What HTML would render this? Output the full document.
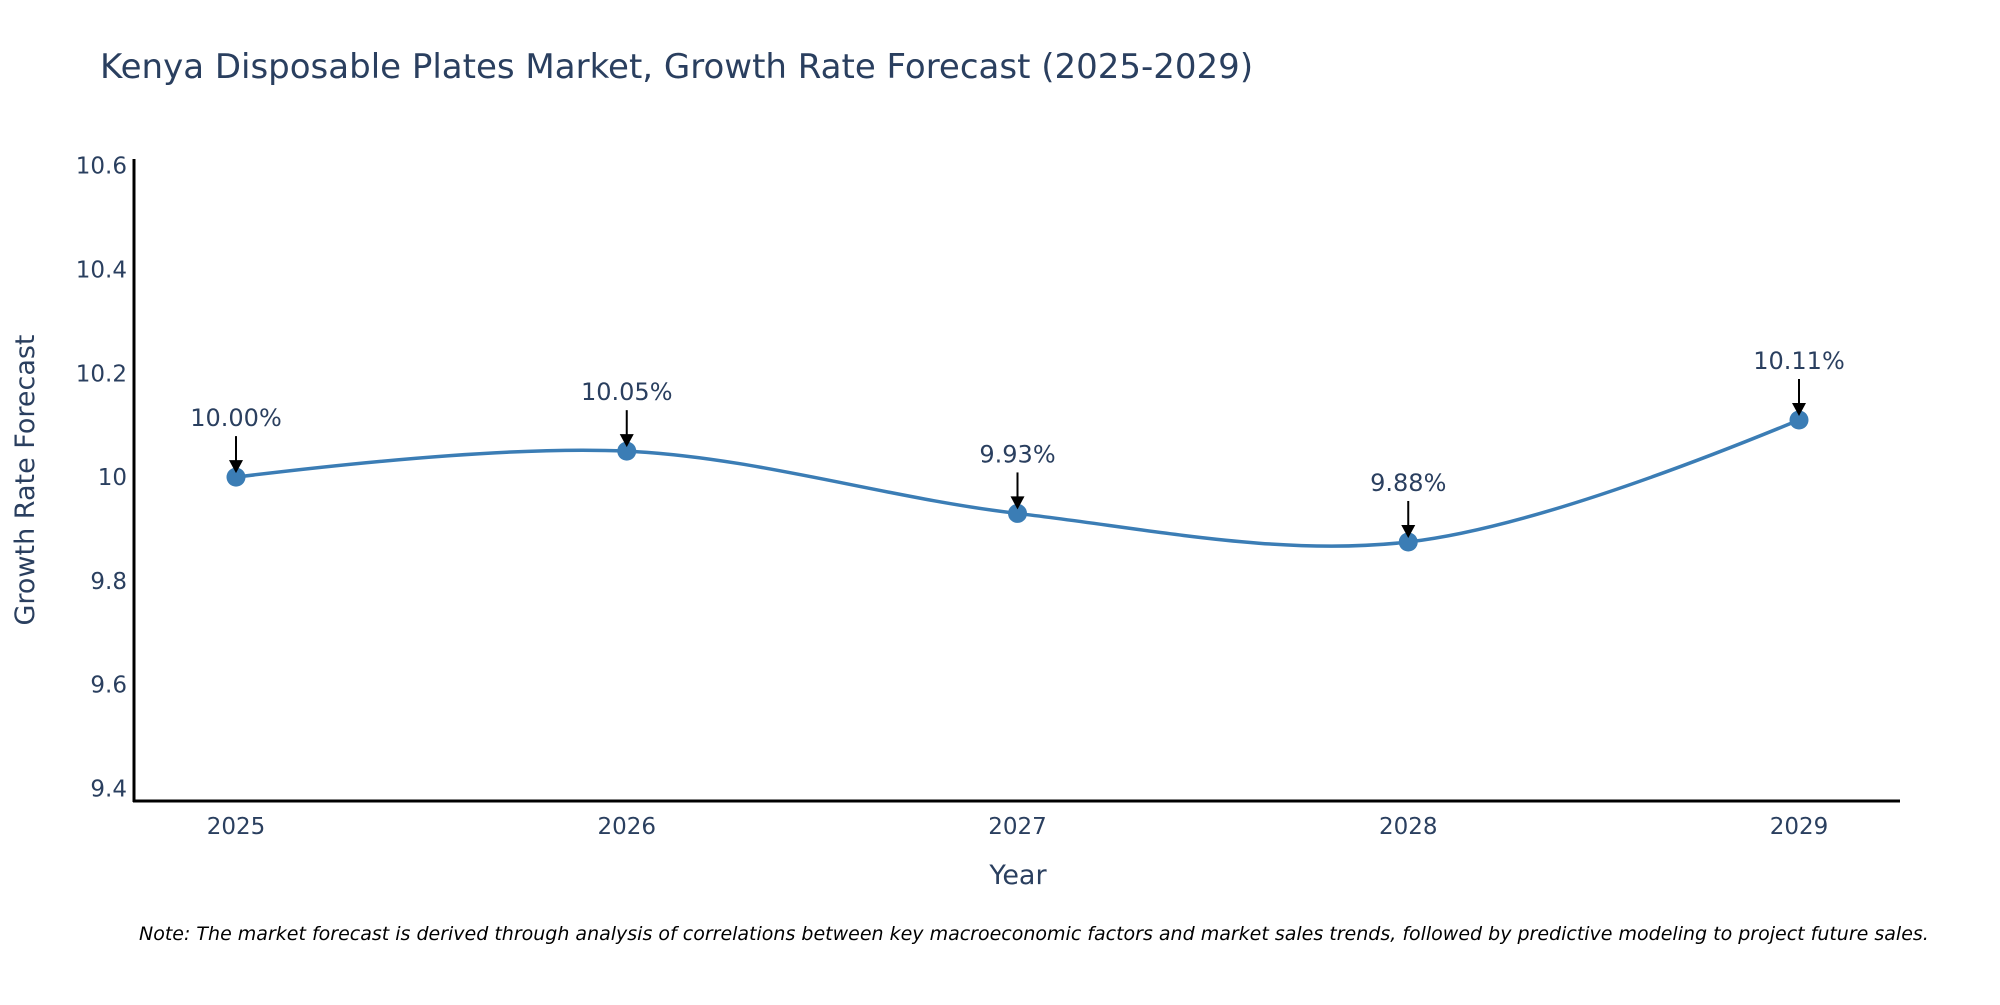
<!DOCTYPE html>
<html><head><meta charset="utf-8"><style>
body{margin:0;background:#fff;}
svg text{font-family:"DejaVu Sans","Liberation Sans",sans-serif;}
</style></head><body>
<svg id="chart" width="2000" height="1000" xmlns="http://www.w3.org/2000/svg">
<text x="100" y="78" font-size="34" fill="#2a3f5f">Kenya Disposable Plates Market, Growth Rate Forecast (2025-2029)</text>
<g id="yticks"></g>
<g id="xticks"></g>
<line x1="134" y1="159" x2="134" y2="802" stroke="#000" stroke-width="3"/>
<line x1="133" y1="801" x2="1900" y2="801" stroke="#000" stroke-width="3"/>
<text transform="translate(34,480) rotate(-90)" text-anchor="middle" font-size="27" fill="#2a3f5f">Growth Rate Forecast</text>
<text x="1018" y="884" text-anchor="middle" font-size="27" fill="#2a3f5f">Year</text>
<g id="series"></g>
<g id="annots"></g>
<text x="139" y="940" font-size="19" font-style="italic" fill="#000">Note: The market forecast is derived through analysis of correlations between key macroeconomic factors and market sales trends, followed by predictive modeling to project future sales.</text>
</svg>
<script>
const years = [2025, 2026, 2027, 2028, 2029];
const values = [10.00, 10.05, 9.93, 9.875, 10.11];
const valueLabels = ["10.00%", "10.05%", "9.93%", "9.88%", "10.11%"];
const yTicks = [9.4, 9.6, 9.8, 10, 10.2, 10.4, 10.6];
const yTickLabels = ["9.4", "9.6", "9.8", "10", "10.2", "10.4", "10.6"];

const NS = "http://www.w3.org/2000/svg";
const xMin = 2025, xMax = 2029, px0 = 236, px1 = 1799;
const yRef0 = 9.4, yRef1 = 10.6, py0 = 788.5, py1 = 165.7;
function xs(v){ return px0 + (v - xMin) / (xMax - xMin) * (px1 - px0); }
function ys(v){ return py0 + (v - yRef0) / (yRef1 - yRef0) * (py1 - py0); }
function mk(tag, attrs, parent){ const e = document.createElementNS(NS, tag); for (const k in attrs) e.setAttribute(k, attrs[k]); parent.appendChild(e); return e; }

const yg = document.getElementById('yticks');
yTicks.forEach((t, i) => {
  const e = mk('text', {x: 127, y: ys(t) + 8, 'text-anchor': 'end', 'font-size': 23, fill: '#2a3f5f'}, yg);
  
  
  e.textContent = yTickLabels[i];
});
const xg = document.getElementById('xticks');
years.forEach(y => {
  const e = mk('text', {x: xs(y), y: 834, 'text-anchor': 'middle', 'font-size': 23, fill: '#2a3f5f'}, xg);
  
  
  e.textContent = String(y);
});

const pts = years.map((y, i) => [xs(y), ys(values[i])]);
function tangent(p, t, n, s){
  const d1x = p[0]-t[0], d1y = p[1]-t[1], d2x = n[0]-t[0], d2y = n[1]-t[1];
  const d1a = Math.pow(d1x*d1x + d1y*d1y, 0.25), d2a = Math.pow(d2x*d2x + d2y*d2y, 0.25);
  const nx = (d2a*d2a*d1x - d1a*d1a*d2x)*s, ny = (d2a*d2a*d1y - d1a*d1a*d2y)*s;
  const den1 = 3*d2a*(d1a+d2a), den2 = 3*d1a*(d1a+d2a);
  return [[t[0]+nx/den1, t[1]+ny/den1], [t[0]-nx/den2, t[1]-ny/den2]];
}
const tg = [];
for (let i = 1; i < pts.length - 1; i++) tg.push(tangent(pts[i-1], pts[i], pts[i+1], 1));
let d = 'M' + pts[0].join(',') + 'Q' + tg[0][0].join(',') + ' ' + pts[1].join(',');
for (let i = 2; i < pts.length - 1; i++) d += 'C' + tg[i-2][1].join(',') + ' ' + tg[i-1][0].join(',') + ' ' + pts[i].join(',');
d += 'Q' + tg[tg.length-1][1].join(',') + ' ' + pts[pts.length-1].join(',');
const sg = document.getElementById('series');
const line = mk('path', {d: d, fill: 'none', stroke: '#3b7db5', 'stroke-width': 3.5}, sg);


pts.forEach(p => {
  const c = mk('circle', {cx: p[0], cy: p[1], r: 9.5, fill: '#3b7db5'}, sg);
  
  
});

const ag = document.getElementById('annots');
pts.forEach((p, i) => {
  const l = mk('line', {x1: p[0], y1: p[1]-41, x2: p[0], y2: p[1]-16, stroke: '#000', 'stroke-width': 2}, ag);
  
  
  const h = mk('polygon', {points: `${p[0]-7},${p[1]-17} ${p[0]+7},${p[1]-17} ${p[0]},${p[1]-4}`, fill: '#000'}, ag);
  
  
  const t = mk('text', {x: p[0], y: p[1]-51, 'text-anchor': 'middle', 'font-size': 24, fill: '#2a3f5f'}, ag);
  
  
  t.textContent = valueLabels[i];
});
</script>
</body></html>
